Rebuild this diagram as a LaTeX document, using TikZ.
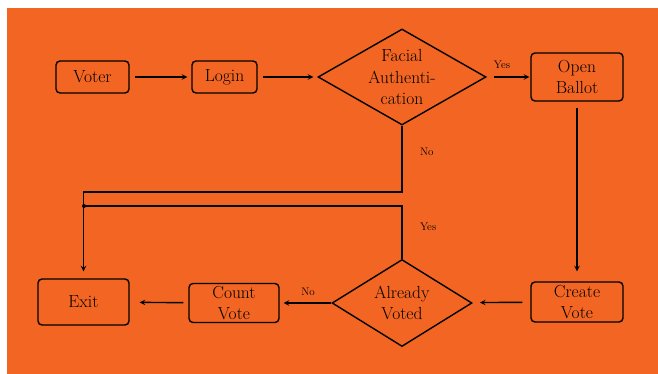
\documentclass[tikz,border=0pt]{standalone}
\usepackage{tikz}
\usetikzlibrary{arrows,shapes.geometric}

\definecolor{bgorange}{RGB}{243,101,35}

\begin{document}
\begin{tikzpicture}[x=1pt, y=-1pt, line width=1.4pt, >=stealth,
                    every edge/.style={draw,solid},
                    box/.style={draw=black, rounded corners=4pt, align=center, inner sep=0pt,
                                font=\fontsize{17.5}{21.7}\selectfont},
                    choice/.style={draw=black, diamond, align=center, inner sep=-3pt,
                                   font=\fontsize{17.5}{21.7}\selectfont},
                    lbl/.style={font=\fontsize{11}{13}\selectfont}]

\useasboundingbox[fill=white] (0,0) rectangle (658,374);
\fill[bgorange] (7,8) rectangle (658,374);

\node[box, minimum width=73pt, minimum height=32pt] (voter) at (92.5,77) {Voter};
\node[box, minimum width=65pt, minimum height=32pt] (login) at (224.5,77) {Login};
\node[choice, minimum width=168pt, minimum height=96pt, aspect=1.85] (face) at (402,77)
     {Facial\\Authenti-\\cation};
\node[box, minimum width=92pt, minimum height=48pt] (ballot) at (577,77) {Open\\Ballot};
\node[box, minimum width=92pt, minimum height=40pt] (create) at (577,302) {Create\\Vote};
\node[choice, minimum width=140pt, minimum height=87pt, aspect=1.6] (already) at (402,303)
     {Already\\Voted};
\node[box, minimum width=90pt, minimum height=39pt] (count) at (234,303) {Count\\Vote};
\node[box, minimum width=91pt, minimum height=46pt] (exit) at (83.5,302) {Exit};

\coordinate (nobend) at (402,192);
\coordinate (yesbend) at (402,206);
\coordinate (join) at (84,206);

\path[->]
(voter) edge [shorten <=5pt, shorten >=4pt] (login)
(login) edge [shorten <=5pt, shorten >=4pt] (face)
(face) edge [shorten <=7pt, shorten >=1pt] node[lbl, above=4pt, pos=0.35] {Yes} (ballot)
(ballot) edge [shorten <=6pt, shorten >=10pt] (create)
(create) edge [shorten <=8pt, shorten >=8pt] (already)
(already) edge [shorten >=4pt] node[lbl, above=3pt, pos=0.45] {No} (count)
(count) edge [shorten <=5pt, shorten >=10pt] (exit);

\draw[->, shorten >=7pt] (face) -- node[lbl, pos=0.4, right=14pt] {No} (nobend) -| (exit);
\draw (already) -- node[lbl, pos=0.6, right=14pt] {Yes} (yesbend) -- (join);
\fill (join) circle (2pt);
\end{tikzpicture}
\end{document}
